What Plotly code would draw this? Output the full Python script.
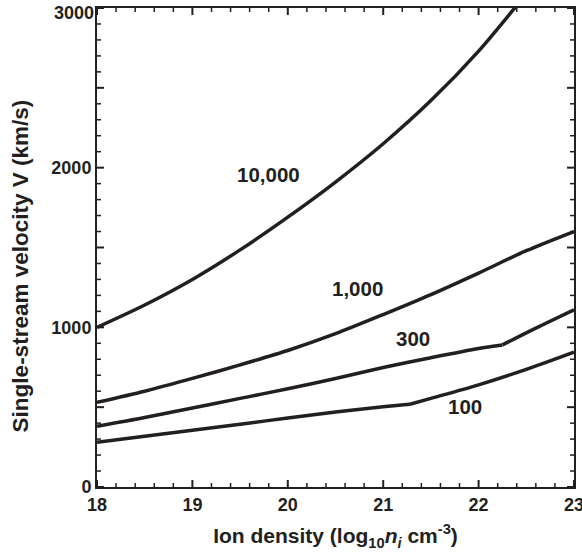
import plotly.graph_objects as go

# Data
x_10k = [18, 18.5, 19, 19.5, 20, 20.5, 21, 21.5, 22, 22.5]
v_10k = [1000, 1140, 1300, 1485, 1690, 1910, 2150, 2420, 2730, 3090]

x_1k = [18, 18.5, 19, 19.5, 20, 20.5, 21, 21.5, 22, 22.5, 23]
v_1k = [530, 600, 680, 765, 855, 960, 1080, 1205, 1340, 1480, 1600]

x_300 = [18, 18.5, 19, 19.5, 20, 20.5, 21, 21.5, 22, 22.25, 22.6, 23]
v_300 = [380, 435, 495, 555, 615, 680, 748, 810, 868, 890, 995, 1110]

x_100 = [18, 18.5, 19, 19.5, 20, 20.5, 21, 21.28, 21.5, 22, 22.5, 23]
v_100 = [280, 318, 355, 393, 432, 470, 503, 518, 555, 640, 737, 845]

curve_labels = ["10,000", "1,000", "300", "100"]
label_x = [19.8, 20.73, 21.31, 21.86]
label_y = [1960, 1246, 933, 507]

x_major = [18, 19, 20, 21, 22, 23]
x_minor = [18 + i / 5 for i in range(26) if i % 5]
y_major = [0, 500, 1000, 1500, 2000, 2500, 3000]
y_minor = [i * 100 for i in range(31) if i % 5]
y_labelled = ["0", "1000", "2000", "3000"]
y_label_alias = {"500": " ", "1500": " ", "2500": " ", "3000": " "}

X_RANGE = [18, 23]
Y_RANGE = [0, 3000]
INK = "#231f20"
FONT = "Liberation Sans"

W, H = 582, 552
M = dict(l=97, r=8, t=8, b=65)
PLOT_W = W - M["l"] - M["r"]
PLOT_H = H - M["t"] - M["b"]
# pixel -> data unit conversion for inward tick lengths
DX_PER_PX = (X_RANGE[1] - X_RANGE[0]) / PLOT_W
DY_PER_PX = (Y_RANGE[1] - Y_RANGE[0]) / PLOT_H
MAJOR_LEN, MINOR_LEN = 7, 4

series = [(x_10k, v_10k, None), (x_1k, v_1k, None), (x_300, v_300, 9), (x_100, v_100, 7)]

fig = go.Figure()
for xs, vs, kink in series:
    segs = [(xs, vs)] if kink is None else [(xs[:kink + 1], vs[:kink + 1]), (xs[kink:], vs[kink:])]
    for sx, sv in segs:
        fig.add_trace(go.Scatter(x=sx, y=sv, mode="lines",
                                 line=dict(color=INK, width=3.5, shape="spline", smoothing=0.8),
                                 showlegend=False, hoverinfo="skip"))


def tick_segments(xt, yt, length_px):
    xs, ys = [], []
    dy = length_px * DY_PER_PX
    dx = length_px * DX_PER_PX
    for v in xt:
        xs += [v, v, None, v, v, None]
        ys += [Y_RANGE[0], Y_RANGE[0] + dy, None, Y_RANGE[1], Y_RANGE[1] - dy, None]
    for v in yt:
        xs += [X_RANGE[0], X_RANGE[0] + dx, None, X_RANGE[1], X_RANGE[1] - dx, None]
        ys += [v, v, None, v, v, None]
    return xs, ys


for xt, yt, ln, w in ((x_major, y_major, MAJOR_LEN, 2), (x_minor, y_minor, MINOR_LEN, 1.5)):
    tx, ty = tick_segments(xt, yt, ln)
    fig.add_trace(go.Scatter(x=tx, y=ty, mode="lines", line=dict(color=INK, width=w),
                             connectgaps=False, showlegend=False, hoverinfo="skip"))

for t, lx, ly in zip(curve_labels, label_x, label_y):
    fig.add_annotation(x=lx, y=ly, text=t, showarrow=False,
                       font=dict(family=FONT, size=20.5, color=INK, weight="bold"))

# top tick label, nudged down to stay inside the picture as in the reference
fig.add_annotation(x=X_RANGE[0], y=Y_RANGE[1], text=y_labelled[-1], showarrow=False,
                   xanchor="right", yanchor="middle", xshift=-1, yshift=-5,
                   font=dict(family=FONT, size=18, color=INK, weight="bold"))

# y-axis title
fig.add_annotation(xref="paper", yref="paper", x=-0.161, y=0.461, textangle=-90,
                   text="Single-stream velocity V (km/s)", showarrow=False,
                   xanchor="center", yanchor="middle",
                   font=dict(family=FONT, size=22.5, color=INK, weight="bold"))

fig.update_xaxes(range=X_RANGE, tickmode="array", tickvals=x_major,
                 showline=True, linewidth=2, linecolor=INK, mirror=True,
                 ticks="", showgrid=False, zeroline=False, automargin=False,
                 ticklabeloverflow="allow", ticklabelstandoff=0,
                 tickfont=dict(family=FONT, size=18, color=INK, weight="bold"),
                 title=dict(text="Ion density (log<sub>10</sub><i>n<sub>i</sub></i> cm<sup>-3</sup>)",
                            font=dict(family=FONT, size=21, color=INK, weight="bold"), standoff=15))
fig.update_yaxes(range=Y_RANGE, tickmode="array", tickvals=y_major, labelalias=y_label_alias,
                 showline=True, linewidth=2, linecolor=INK, mirror=True,
                 ticks="", showgrid=False, zeroline=False, automargin=False,
                 ticklabeloverflow="allow", ticklabelstandoff=0,
                 tickfont=dict(family=FONT, size=18, color=INK, weight="bold"))

fig.update_layout(width=W, height=H, margin=dict(**M, autoexpand=False),
                  plot_bgcolor="white", paper_bgcolor="white")

fig.write_html("out.html", config={"displayModeBar": False},
               post_script="document.body.style.margin='0';")
